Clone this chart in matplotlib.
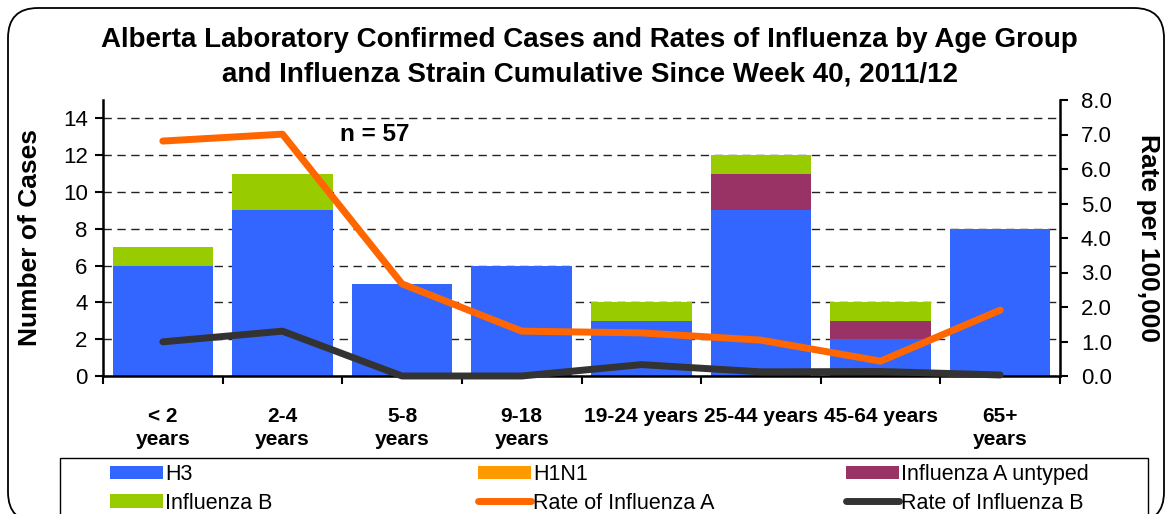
import numpy as np
import matplotlib
matplotlib.use('Agg')
import matplotlib.pyplot as plt
from matplotlib.patches import FancyBboxPatch, Rectangle
from matplotlib.ticker import FormatStrFormatter

plt.rcParams['font.family'] = ['Liberation Sans', 'DejaVu Sans']

age_groups = ['< 2\nyears', '2-4\nyears', '5-8\nyears', '9-18\nyears',
              '19-24 years', '25-44 years', '45-64 years', '65+\nyears']
h3 = [6, 9, 5, 6, 3, 9, 2, 8]
h1n1 = [0, 0, 0, 0, 0, 0, 0, 0]
a_untyped = [0, 0, 0, 0, 0, 2, 1, 0]
flu_b = [1, 2, 0, 0, 1, 1, 1, 0]
rate_a = [6.81, 7.01, 2.67, 1.30, 1.25, 1.04, 0.43, 1.91]
rate_b = [0.99, 1.30, 0.0, 0.0, 0.33, 0.12, 0.13, 0.03]

col_h3 = '#3366FF'
col_h1n1 = '#FF9900'
col_unt = '#993366'
col_b = '#99CC00'
col_ra = '#FF6600'
col_rb = '#333333'

W, H = 1168, 514
fig = plt.figure(figsize=(W / 100, H / 100), dpi=100)

# rounded border around the chart area (in inches), bottom runs off the image
border = FancyBboxPatch((0.08, -0.08), 11.56, 5.14,
                        boxstyle='round,pad=0,rounding_size=0.3',
                        transform=fig.dpi_scale_trans, fill=False,
                        edgecolor='black', linewidth=1.3)
fig.patches.append(border)

ax = fig.add_axes([103 / W, 1 - 376 / H, 957 / W, 276 / H])
x = np.arange(len(age_groups))
w = 0.84

bot = np.zeros(len(x))
ax.bar(x, h3, w, bottom=bot, color=col_h3, label='H3')
bot += h3
ax.bar(x, h1n1, w, bottom=bot, color=col_h1n1, label='H1N1')
bot += h1n1
ax.bar(x, a_untyped, w, bottom=bot, color=col_unt, label='Influenza A untyped')
bot += a_untyped
ax.bar(x, flu_b, w, bottom=bot, color=col_b, label='Influenza B')

ax.set_xlim(-0.5, len(x) - 0.5)
ax.set_ylim(0, 15)
ax.set_yticks(np.arange(0, 15, 2))
ax.set_axisbelow(True)
ax.yaxis.grid(True, linestyle=(0, (6, 4)), color='#222222', linewidth=1)
ax.tick_params(axis='y', labelsize=16, length=6, width=1.5, direction='out', pad=5)

ax.set_xticks(x)
ax.set_xticklabels(age_groups, fontsize=15, fontweight='bold', linespacing=1.3)
ax.tick_params(axis='x', which='major', length=0, pad=22)
ax.set_xticks(np.arange(-0.5, len(x), 1), minor=True)
ax.tick_params(axis='x', which='minor', length=6, width=1.5, direction='out')

for s in ['top', 'right']:
    ax.spines[s].set_visible(False)
ax.spines['left'].set_linewidth(1.8)
ax.spines['bottom'].set_linewidth(1.8)
ax.set_ylabel('Number of Cases', fontsize=19, fontweight='bold', labelpad=15)

ax2 = ax.twinx()
ax2.plot(x, rate_a, color=col_ra, linewidth=5, solid_capstyle='round',
         label='Rate of Influenza A', clip_on=False)
ax2.plot(x, rate_b, color=col_rb, linewidth=5, solid_capstyle='round',
         label='Rate of Influenza B', clip_on=False)
ax2.set_ylim(0, 8)
ax2.set_yticks(np.arange(0, 8.1, 1))
ax2.yaxis.set_major_formatter(FormatStrFormatter('%.1f'))
ax2.tick_params(axis='y', labelsize=16, length=6, width=1.5, direction='out', pad=9)
for s in ['top', 'left', 'bottom']:
    ax2.spines[s].set_visible(False)
ax2.spines['right'].set_linewidth(1.8)
ax2.set_ylabel('Rate per 100,000', fontsize=19, fontweight='bold',
               rotation=-90, labelpad=35)

ax.text(1.77, 13.1, 'n = 57', fontsize=17.5, fontweight='bold', ha='center', va='center')

fig.text(0.505, 1 - 57 / H, 'Alberta Laboratory Confirmed Cases and Rates of Influenza by Age Group\n'
         'and Influenza Strain Cumulative Since Week 40, 2011/12',
         ha='center', va='center', fontsize=20, fontweight='bold', linespacing=1.4)

# legend: frame box plus three two-row columns at fixed positions
fig.patches.append(Rectangle((60 / W, -0.05), 1088 / W, 0.05 + 1 - 458 / H,
                             transform=fig.transFigure, fill=False,
                             edgecolor='black', linewidth=1.0))
h1, l1 = ax.get_legend_handles_labels()
h2, l2 = ax2.get_legend_handles_labels()
columns = [([h1[0], h1[3]], [l1[0], l1[3]], 110),
           ([h1[1], h2[0]], [l1[1], l2[0]], 478),
           ([h1[2], h2[1]], [l1[2], l2[1]], 846)]
for hs, ls, px in columns:
    leg = fig.legend(hs, ls, loc='upper left', bbox_to_anchor=(px / W, 1 - 464 / H),
                     fontsize=15.5, frameon=False, handlelength=2.45,
                     handleheight=0.6, handletextpad=0.12, borderpad=0,
                     labelspacing=0.35, borderaxespad=0)

fig.savefig('out.png', dpi=100)
